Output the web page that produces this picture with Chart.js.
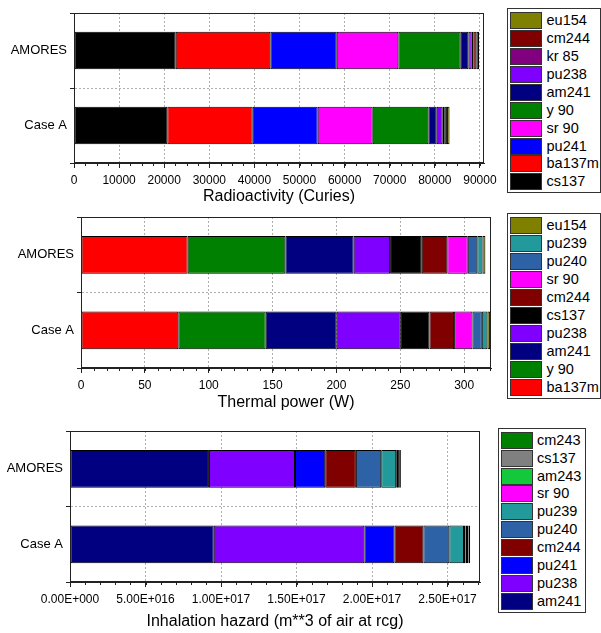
<!DOCTYPE html>
<html>
<head>
<meta charset="utf-8">
<script src="https://cdn.jsdelivr.net/npm/chart.js@4.4.1/dist/chart.umd.min.js"></script>
<style>
  body { margin: 0; background: #fff; font-family: "Liberation Sans", Arial, sans-serif; }
  #wrap { position: relative; width: 601px; height: 633px; overflow: hidden; }
  canvas { position: absolute; left: 0; }
  .legend { position: absolute; box-sizing: border-box; border: 1px solid #333; background: #fff; }
  .legend .row { position: absolute; height: 17px; }
  .legend .sw { position: absolute; left: 0; top: 0; width: 32px; height: 17px; box-sizing: border-box; border: 1px solid #333; }
  .legend .tx { position: absolute; top: -1px; font-size: 14.5px; line-height: 19px; color: #000; white-space: nowrap; }
</style>
</head>
<body>
<div id="wrap">
  <canvas id="c1"></canvas>
  <canvas id="c2"></canvas>
  <canvas id="c3"></canvas>
  <div class="legend" id="lg1"></div>
  <div class="legend" id="lg2"></div>
  <div class="legend" id="lg3"></div>
</div>
<script>
const cases = ["AMORES", "Case A"];

// radioactivity (Curies), stacked left to right
const actNuclides = ["cs137", "ba137m", "pu241", "sr 90", "y 90", "am241", "pu238", "kr 85", "cm244", "eu154"];
const actAmores = [22550, 20980, 14720, 13660, 13830, 1690, 750, 350, 750, 510];
const actCaseA = [20690, 18930, 14410, 12200, 12330, 1860, 1330, 330, 600, 580];
const actTicks = [0, 10000, 20000, 30000, 40000, 50000, 60000, 70000, 80000, 90000];

// thermal power (W)
const heatNuclides = ["ba137m", "y 90", "am241", "pu238", "cs137", "cm244", "sr 90", "pu240", "pu239", "eu154"];
const heatAmores = [83.5, 76.5, 53.5, 28.5, 24.8, 20, 16, 7.5, 4, 2.3];
const heatCaseA = [76.2, 68.4, 55.6, 50.2, 22.4, 19.3, 14.4, 7.3, 4.4, 2.1];
const heatTicks = [0, 50, 100, 150, 200, 250, 300];

// inhalation hazard (m**3 of air at rcg)
const inhNuclides = ["am241", "pu238", "pu241", "cm244", "pu240", "pu239", "sr 90", "am243", "cs137", "cm243"];
const inhAmores = [9.2e16, 5.7e16, 2.0e16, 2.03e16, 1.68e16, 0.99e16, 0.12e16, 0.06e16, 0.06e16, 0.07e16];
const inhCaseA = [9.52e16, 9.97e16, 1.99e16, 1.92e16, 1.72e16, 0.97e16, 0.1e16, 0.1e16, 0.1e16, 0.11e16];
const inhTicks = [0, 5e16, 1e17, 1.5e17, 2e17, 2.5e17];

const colors = {
  "cs137": "#000000", "ba137m": "#ff0000", "pu241": "#0000ff", "sr 90": "#ff00ff",
  "y 90": "#008000", "am241": "#000080", "pu238": "#8000ff", "kr 85": "#800080",
  "cm244": "#800000", "eu154": "#808000", "pu240": "#2e62a6", "pu239": "#22999a",
  "am243": "#14c83c", "cm243": "#008000"
};
const colors3 = Object.assign({}, colors, { "cs137": "#808080" });

const FONT = "'Liberation Sans', Arial, sans-serif";

// frame around plot + minor ticks on x axis
const framePlugin = {
  id: "frame",
  afterDraw(chart, args, opts) {
    const { ctx, chartArea: a } = chart;
    const xs = chart.scales.x;
    ctx.save();
    ctx.strokeStyle = "#222";
    ctx.lineWidth = 1;
    ctx.strokeRect(Math.round(a.left) + 0.5, Math.round(a.top) + 0.5,
      Math.round(a.right - a.left) - 1, Math.round(a.bottom - a.top) - 1);
    ctx.beginPath();
    for (let v = 0; v <= xs.max; v += opts.minor) {
      const px = Math.round(xs.getPixelForValue(v)) + 0.5;
      ctx.moveTo(px, a.bottom);
      ctx.lineTo(px, a.bottom + 3);
    }
    ctx.stroke();
    ctx.restore();
  }
};

function sciLabel(v) {
  if (v === 0) return "0.00E+000";
  const [m, e] = v.toExponential(2).split("e");
  const n = parseInt(e, 10);
  return m + "E" + (n < 0 ? "-" : "+") + String(Math.abs(n)).padStart(3, "0");
}

function makeChart(id, cfg) {
  const cv = document.getElementById(id);
  cv.width = 500;
  cv.height = cfg.height;
  cv.style.top = cfg.top + "px";
  const datasets = cfg.names.map((n, i) => ({
    label: n,
    data: [cfg.amores[i], cfg.caseA[i]],
    backgroundColor: cfg.colors[n],
    borderColor: "#000",
    borderWidth: 1,
    borderSkipped: false,
    barPercentage: 0.5,
    categoryPercentage: 1
  }));
  return new Chart(cv, {
    type: "bar",
    data: { labels: cases, datasets },
    plugins: [framePlugin],
    options: {
      indexAxis: "y",
      responsive: false,
      animation: false,
      layout: { padding: { top: cfg.areaTop - cfg.top, right: 500 - cfg.areaRight, left: 0, bottom: 0 } },
      plugins: { legend: { display: false }, tooltip: { enabled: false }, frame: { minor: cfg.minor } },
      scales: {
        x: {
          stacked: true,
          min: 0,
          max: cfg.max,
          afterFit: (s) => {
            s.height = cfg.top + cfg.height - cfg.areaBottom;
            s.paddingLeft = 0;
            s.paddingRight = 0;
          },
          afterBuildTicks: (s) => { s.ticks = cfg.ticks.map((v) => ({ value: v })); },
          ticks: {
            color: "#000",
            padding: 5,
            maxRotation: 0,
            autoSkip: false,
            font: { family: FONT, size: 12 },
            callback: cfg.fmt
          },
          grid: { color: "#b0b0b0", tickColor: "#222", tickLength: 5, tickBorderDash: [] },
          border: { color: "#222", dash: [2, 2] },
          title: {
            display: true,
            text: cfg.title,
            color: "#000",
            font: { family: FONT, size: 16 },
            padding: { top: 0, bottom: cfg.titlePad }
          }
        },
        y: {
          stacked: true,
          afterFit: (s) => { s.width = cfg.areaLeft; },
          ticks: { color: "#000", padding: 3, font: { family: FONT, size: 13 } },
          grid: { offset: true, color: "#b0b0b0", tickColor: "#222", tickLength: 4, tickBorderDash: [] },
          border: { color: "#333", dash: [2, 2] }
        }
      }
    }
  });
}

makeChart("c1", {
  top: 0, height: 210, areaTop: 13, areaBottom: 163, areaLeft: 74, areaRight: 484,
  max: 90900, ticks: actTicks, minor: 2500, titlePad: 3.4,
  names: actNuclides, amores: actAmores, caseA: actCaseA, colors: colors,
  title: "Radioactivity (Curies)", fmt: (v) => String(v)
});
makeChart("c2", {
  top: 205, height: 210, areaTop: 217, areaBottom: 368, areaLeft: 81, areaRight: 491,
  max: 321, ticks: heatTicks, minor: 10, titlePad: 2.9,
  names: heatNuclides, amores: heatAmores, caseA: heatCaseA, colors: colors,
  title: "Thermal power (W)", fmt: (v) => String(v)
});
makeChart("c3", {
  top: 415, height: 218, areaTop: 431, areaBottom: 582, areaLeft: 70, areaRight: 480,
  max: 2.715e17, ticks: inhTicks, minor: 1e16, titlePad: 1.4,
  names: inhNuclides, amores: inhAmores, caseA: inhCaseA, colors: colors3,
  title: "Inhalation hazard (m**3 of air at rcg)", fmt: sciLabel
});

function makeLegend(id, box, names, cols) {
  const el = document.getElementById(id);
  el.style.left = box.left + "px";
  el.style.top = box.top + "px";
  el.style.width = box.width + "px";
  el.style.height = box.height + "px";
  names.slice().reverse().forEach((n, i) => {
    const row = document.createElement("div");
    row.className = "row";
    row.style.left = box.swLeft + "px";
    row.style.top = (box.first + i * 17.93) + "px";
    const sw = document.createElement("div");
    sw.className = "sw";
    sw.style.background = cols[n];
    const tx = document.createElement("div");
    tx.className = "tx";
    tx.style.left = box.txLeft + "px";
    tx.textContent = n;
    row.appendChild(sw);
    row.appendChild(tx);
    el.appendChild(row);
  });
}

makeLegend("lg1", { left: 507, top: 8, width: 94, height: 185, swLeft: 1.5, first: 3, txLeft: 37 }, actNuclides, colors);
makeLegend("lg2", { left: 507, top: 213, width: 94, height: 186, swLeft: 1.5, first: 3.3, txLeft: 37 }, heatNuclides, colors);
makeLegend("lg3", { left: 498, top: 428, width: 88, height: 185, swLeft: 2, first: 2.7, txLeft: 36 }, inhNuclides, colors3);
</script>
</body>
</html>
